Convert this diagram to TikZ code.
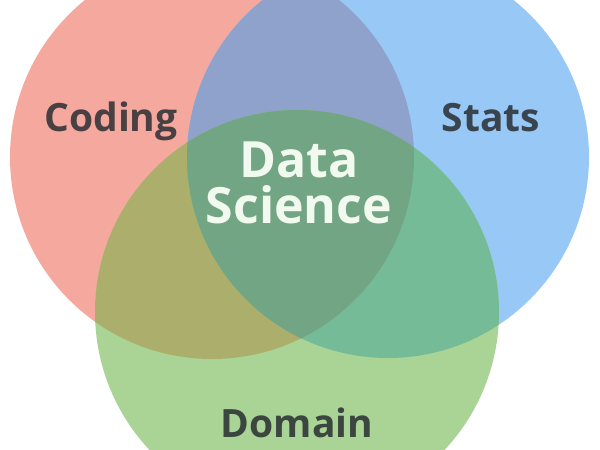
\documentclass[tikz,border=0pt]{standalone}
\usepackage{fontspec}
\setmainfont{Open Sans}
\usepackage{xcolor}
\usetikzlibrary{positioning}
\definecolor{codingred}{HTML}{F4A89E}
\definecolor{statsblue}{HTML}{98C8F5}
\definecolor{domaingreen}{HTML}{A9D495}
\definecolor{codstats}{HTML}{8FA2CC}
\definecolor{coddomain}{HTML}{ACAE6C}
\definecolor{statsdomain}{HTML}{76BB97}
\definecolor{datasci}{HTML}{72A583}
\definecolor{darktext}{HTML}{2A2E33}
\definecolor{lighttext}{HTML}{F2FAEF}
\newcommand{\codingcirc}{(212,157) circle [radius=202]}
\newcommand{\statscirc}{(388,157) circle [radius=201]}
\newcommand{\domaincirc}{(297,312) circle [radius=202]}

\begin{document}
\begin{tikzpicture}[x=1pt,y=-1pt]

\tikzset{setname/.style={
  anchor=base,
  inner sep=0pt,
  font=\fontsize{39}{44}\selectfont\bfseries,
  text=darktext, text opacity=0.85
  },
  centername/.style={
  anchor=base,
  inner sep=0pt,
  font=\fontsize{50}{56}\selectfont\bfseries,
  text=lighttext
  }}

\useasboundingbox (0,0) rectangle (600,450);
\clip (0,0) rectangle (600,450);
\fill[white] (0,0) rectangle (600,450);

\fill[codingred] \codingcirc;
\fill[statsblue] \statscirc;
\fill[domaingreen] \domaincirc;
\begin{scope}
\clip \codingcirc;
\fill[codstats] \statscirc;
\fill[coddomain] \domaincirc;
\end{scope}
\begin{scope}
\clip \statscirc;
\fill[statsdomain] \domaincirc;
\end{scope}
\begin{scope}
\clip \codingcirc;
\clip \statscirc;
\fill[datasci] \domaincirc;
\end{scope}

\node[setname] (coding) at (111,131) {Coding};
\node[setname] (stats) at (491,131) {Stats};
\node[setname] (domain) at (297,437) {Domain};
\node[centername] (data) at (299,177) {Data};
\node[centername] (science) at (299,223) {Science};
\end{tikzpicture}
\end{document}
